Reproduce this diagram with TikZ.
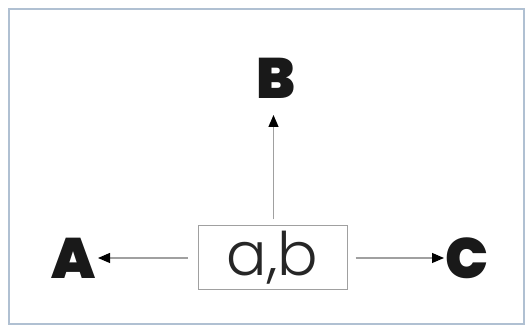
\documentclass[tikz,border=0pt]{standalone}
\usepackage{fontspec}
\setmainfont{Poppins}[UprightFont=* Light]
\newfontfamily\heavyfont{Poppins}[UprightFont=* Black]
\usetikzlibrary{arrows.meta}
\definecolor{framecol}{RGB}{176,192,210}
\definecolor{linecol}{RGB}{160,160,160}
\tikzset{
  letter/.style={inner sep=0pt, font=\heavyfont\fontsize{57}{57}\selectfont, text=black!90},
  boxnode/.style={draw=linecol, line width=1pt, minimum width=149pt, minimum height=64pt, inner sep=0pt, font=\fontsize{60}{60}\selectfont, text=black!85},
  conn/.style={draw=linecol, line width=1.1pt, -{Triangle[length=12pt,width=10pt,fill=black,color=black]}}
}
\begin{document}
\begin{tikzpicture}[x=1pt,y=1pt]
\useasboundingbox (0,0) rectangle (531,326);
\draw[framecol, line width=1.2pt] (9,2) rectangle (524,317);
\node[boxnode] (ab) at (272.5,68) {a,b};
\node[letter] (B) at (275.5,248) {B};
\node[letter] (A) at (74,68) {A};
\node[letter] (C) at (467,68) {C};
\coordinate (Btip) at (273.5,211);
\coordinate (Atip) at (98,68);
\coordinate (Ctip) at (444,68);
\draw[conn] ([yshift=6pt]ab.north -| Btip) -- (Btip);
\draw[conn] ([xshift=-10pt]ab.west) -- (Atip);
\draw[conn] ([xshift=8pt]ab.east) -- (Ctip);
\end{tikzpicture}
\end{document}
